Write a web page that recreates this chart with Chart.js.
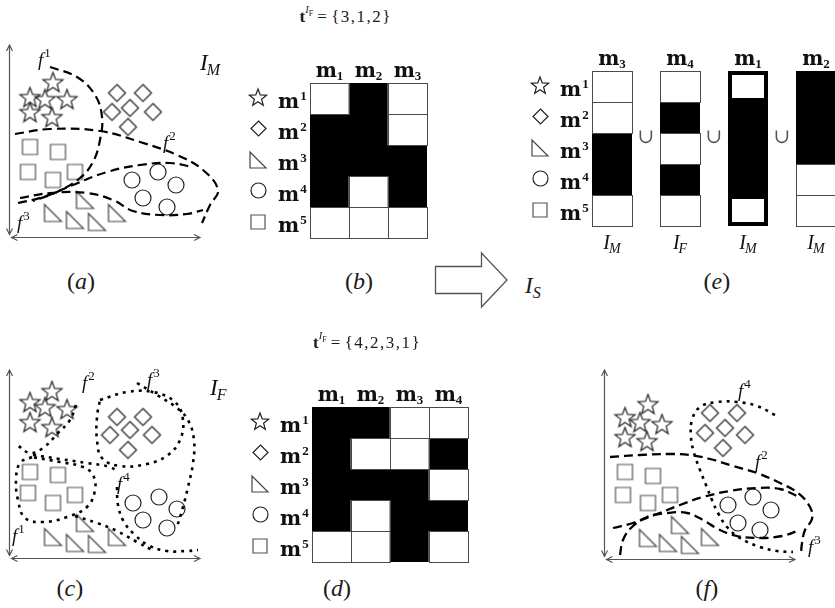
<!DOCTYPE html>
<html>
<head>
<meta charset="utf-8">
<title>Feature partitions and membership matrices</title>
<script src="https://cdn.jsdelivr.net/npm/chart.js@4.4.1/dist/chart.umd.min.js"></script>
<style>
  html, body { margin: 0; padding: 0; background: #fff; }
  body { position: relative; width: 835px; height: 608px; overflow: hidden; }
  canvas.panel { position: absolute; }
  .tx { position: absolute; font-family: "Liberation Serif", "DejaVu Serif", serif; line-height: 1; white-space: nowrap; color: #1a1a1a; }
  .up { font-size: 62%; position: relative; top: -0.8em; }
  .dn { font-size: 70%; position: relative; top: 0.3em; }
  .dn2 { font-size: 75%; position: relative; top: 0.35em; }
  .set { letter-spacing: 1.5px; }
</style>
</head>
<body>
<svg class="tx" style="left:430px;top:248px" width="82" height="64" viewBox="430 248 82 64">
  <polygon points="435.5,266.5 481.5,266.5 481.5,253 507,280 481.5,307 481.5,293.5 435.5,293.5"
           fill="none" stroke="#555" stroke-width="1.3" stroke-linejoin="miter"/>
</svg>
<script>
// ---------- samples in each feature-space view (offsets from the axis origin, y up) ----------
const starsA     = [[44,154],[21,139],[36,137],[58,137],[21,124],[43,119]];
const diamondsA  = [[108,144],[134,144],[103,125],[121,129],[144,125],[119,110]];
const trianglesA = [[44,24],[66,17],[88,15],[76,37],[108,24]];
const circlesA   = [[123,57],[149,65],[167,52],[134,39],[158,30]];
const squaresA   = [[21,90],[49,85],[19,65],[44,57],[66,65]];

const starsC     = [[43,166],[21,155],[36,150],[58,148],[21,135],[43,130]];
const diamondsC  = [[108,141],[134,141],[101,123],[121,128],[143,123],[119,108]];
const trianglesC = [[44,21],[66,15],[88,14],[76,35],[108,21]];
const circlesC   = [[124,55],[150,61],[168,49],[134,38],[158,30]];
const squaresC   = [[21,86],[49,83],[19,65],[44,55],[66,63]];

const starsF     = [[44,154],[21,141],[36,136],[58,134],[21,121],[43,117]];
const diamondsF  = [[106,146],[133,146],[101,126],[121,131],[141,124],[119,111]];
const trianglesF = [[44,21],[64,16],[86,14],[76,34],[106,22]];
const circlesF   = [[124,54],[149,62],[167,49],[134,36],[156,29]];
const squaresF   = [[21,87],[49,83],[19,64],[44,56],[66,64]];

// ---------- partition boundaries ----------
const f1A        = [[41,170],[68,160],[86,142],[93,120],[91,97],[84,75],[71,59],[48,45],[24,36]];
const f2A        = [[6,103],[41,108],[91,106],[131,95],[168,82],[194,67],[209,47],[201,32],[193,14]];
const f3A_top    = [[9,34],[34,40],[64,52],[98,65],[131,72],[161,74],[184,70]];
const f3A_bottom = [[11,39],[41,44],[78,44],[104,37],[124,26],[151,22],[178,23],[194,27]];

const f1C        = [[23,101],[11,95],[7,78],[9,58],[16,40],[34,36],[58,41],[78,51],[86,68],[84,83],[74,91],[51,96],[23,101]];
const f2C        = [[67,153],[61,138],[49,125],[34,110],[21,105],[8,113]];
const f2C_edge   = [[24,103],[51,99],[78,95],[101,91],[109,86]];
const f3C        = [[91,158],[118,166],[144,166],[166,156],[174,138],[171,118],[159,103],[138,94],[111,92],[93,100],[88,118],[88,141],[91,158]];
const f3C_outer  = [[128,175],[148,163],[168,150],[179,138],[185,118],[184,95],[179,71],[174,51],[168,31]];
const f4C        = [[108,71],[109,53],[115,36],[126,23],[139,13],[158,7],[178,7],[189,8]];
const f4C_edge   = [[66,42],[88,35],[108,27],[128,16],[143,8]];

const f2F        = [[6,102],[36,104],[66,105],[86,104],[106,100],[129,93],[153,86],[176,76],[194,66],[206,52],[208,40],[201,29],[198,16],[197,6]];
const f3F_top    = [[9,31],[29,36],[53,45],[76,54],[99,62],[126,68],[153,71],[176,70],[193,63]];
const f3F_bottom = [[16,4],[19,19],[28,32],[43,42],[63,46],[83,46],[99,39],[114,30],[133,23],[156,21],[178,23],[193,28],[199,32]];
const f4F        = [[171,144],[153,153],[133,157],[113,157],[96,152],[88,139],[87,122],[90,106],[96,89],[102,74],[108,59],[114,46],[123,32],[136,21],[156,12],[173,8],[189,7]];

// ---------- membership matrices (rows: classes, columns: partition cells) ----------
const rowLabels  = ['m1','m2','m3','m4','m5'];
const rowShapes  = ['star','diamond','triangle','circle','square'];
const colLabelsM = ['m1','m2','m3'];
const matrixM    = [[0,1,0],[1,1,0],[1,1,1],[1,0,1],[0,0,0]];
const colLabelsF = ['m1','m2','m3','m4'];
const matrixF    = [[1,1,0,0],[1,0,0,1],[1,1,1,0],[1,0,1,1],[0,0,1,0]];
const tOrderM    = [3,1,2];
const tOrderF    = [4,2,3,1];

// ---------- selected cells combined into the union ----------
const unionCols    = ['m3','m4','m1','m2'];
const unionSources = ['I_M','I_F','I_M','I_M'];
const unionFramed  = 'm1';

// ---------- drawing helpers ----------
const SHAPE_INK = { star: '#222', diamond: '#222', triangle: '#444', circle: '#222', square: '#555' };
function shapeImage(kind, s) {
  const n = Math.ceil(s) + 4;
  const c = document.createElement('canvas');
  c.width = n; c.height = n;
  const g = c.getContext('2d');
  g.strokeStyle = SHAPE_INK[kind]; g.lineWidth = 1.2; g.lineJoin = 'miter';
  const m = n / 2, h = s / 2;
  g.beginPath();
  if (kind === 'star') {
    for (let i = 0; i < 10; i++) {
      const ang = -Math.PI / 2 + i * Math.PI / 5, rr = i % 2 ? h * 0.42 : h;
      g.lineTo(m + rr * Math.cos(ang), m + rr * Math.sin(ang));
    }
    g.closePath();
  } else if (kind === 'diamond') {
    g.moveTo(m, m - h); g.lineTo(m + h, m); g.lineTo(m, m + h); g.lineTo(m - h, m); g.closePath();
  } else if (kind === 'circle') {
    g.arc(m, m, h, 0, Math.PI * 2);
  } else if (kind === 'square') {
    g.rect(m - h, m - h, s, s);
  } else if (kind === 'triangle') {
    g.moveTo(m - h, m - h); g.lineTo(m - h, m + h); g.lineTo(m + h, m + h); g.closePath();
  }
  g.stroke();
  return c;
}
const MARKS = { star: shapeImage('star', 21), diamond: shapeImage('diamond', 17), triangle: shapeImage('triangle', 17), circle: shapeImage('circle', 16), square: shapeImage('square', 15) };
const ICONS = { star: shapeImage('star', 18), diamond: shapeImage('diamond', 15), triangle: shapeImage('triangle', 16), circle: shapeImage('circle', 15), square: shapeImage('square', 14) };

const SERIF = '"Liberation Serif", "DejaVu Serif", serif';
const BOLD_M = '"DejaVu Serif", serif';
const COL_STYLE = { base: 'bold 20px ' + BOLD_M, script: 'bold 13px ' + SERIF, shift: 3, gap: 0 };
const ROW_STYLE = { base: 'bold 20px ' + BOLD_M, script: 'bold 13px ' + SERIF, shift: -8, gap: 1 };
const F_STYLE   = { base: 'italic 19px ' + SERIF, script: '13px ' + SERIF, shift: -9, gap: 1 };
const I_STYLE   = { base: 'italic 23px ' + SERIF, script: 'italic 16px ' + SERIF, shift: 5, gap: -1 };
const IB_STYLE  = { base: 'italic 20px ' + SERIF, script: 'italic 14px ' + SERIF, shift: 4, gap: -1 };

// label 'm1' -> m with script 1; 'I_M' -> I with script M
function drawScripted(ctx, label, x, y, st, align) {
  let base, script;
  if (label.includes('_')) [base, script] = label.split('_');
  else { base = label[0]; script = label.slice(1); }
  ctx.font = st.base; const wb = ctx.measureText(base).width;
  ctx.font = st.script; const ws = script ? ctx.measureText(script).width : 0;
  const x0 = align === 'center' ? x - (wb + st.gap + ws) / 2 : x;
  ctx.textAlign = 'left'; ctx.textBaseline = 'alphabetic'; ctx.fillStyle = '#111';
  ctx.font = st.base; ctx.fillText(base, x0, y);
  if (script) { ctx.font = st.script; ctx.fillText(script, x0 + wb + st.gap, y + st.shift); }
}

function arrowHead(ctx, x, y, dx, dy) {
  const len = 6, w = 3;
  ctx.beginPath();
  ctx.moveTo(x - dx * len - dy * w, y - dy * len + dx * w);
  ctx.lineTo(x, y);
  ctx.lineTo(x - dx * len + dy * w, y - dy * len - dx * w);
  ctx.stroke();
}

// axes with double arrows, plus the boundary and view names
const panelDecor = {
  id: 'panelDecor',
  beforeDatasetsDraw(chart) {
    const { ctx, chartArea: a } = chart;
    ctx.save();
    ctx.strokeStyle = '#555'; ctx.lineWidth = 1.2;
    const L = Math.round(a.left) + 0.5, B = Math.round(a.bottom) + 0.5;
    ctx.beginPath();
    ctx.moveTo(L, B - 3); ctx.lineTo(L, a.top);
    ctx.moveTo(L + 2, B); ctx.lineTo(a.right, B);
    ctx.stroke();
    arrowHead(ctx, L, a.top, 0, -1);
    arrowHead(ctx, L, B - 3, 0, 1);
    arrowHead(ctx, L + 2, B, -1, 0);
    arrowHead(ctx, a.right, B, 1, 0);
    ctx.restore();
  },
  afterDatasetsDraw(chart, _args, opts) {
    const { ctx } = chart, xs = chart.scales.x, ys = chart.scales.y;
    ctx.save();
    (opts.labels || []).forEach(l => {
      drawScripted(ctx, l.text, xs.getPixelForValue(l.at[0]), ys.getPixelForValue(l.at[1]), l.text[0] === 'I' ? I_STYLE : F_STYLE, 'left');
    });
    ctx.restore();
  }
};

// outlines of empty cells, frame of the chosen column, row/column names, union signs
const matrixDecor = {
  id: 'matrixDecor',
  afterDatasetsDraw(chart, _args, o) {
    const { ctx } = chart, xs = chart.scales.x, ys = chart.scales.y, area = chart.chartArea;
    ctx.save();
    ctx.strokeStyle = '#4a4a4a'; ctx.lineWidth = 1;
    const e = v => Math.round(v) + 0.5;
    chart.data.datasets.forEach((ds, r) => {
      chart.getDatasetMeta(r).data.forEach((bar, c) => {
        if (ds.cells[c] || o.framed === c) return;
        const p = bar.getProps(['x', 'y', 'base', 'width'], true);
        const l = e(p.x - p.width / 2), rr = e(p.x + p.width / 2);
        const t = e(Math.min(p.y, p.base)), b = e(Math.max(p.y, p.base));
        ctx.strokeRect(l, t, rr - l, b - t);
      });
    });
    if (o.framed >= 0) {
      const bar = chart.getDatasetMeta(0).data[o.framed];
      const l = Math.round(bar.x - bar.width / 2), r = Math.round(bar.x + bar.width / 2);
      const t = Math.round(area.top), b = Math.round(area.bottom);
      ctx.strokeStyle = '#000'; ctx.lineWidth = 4;
      ctx.strokeRect(l + 2, t + 2, r - l - 4, b - t - 4);
    }
    const first = chart.getDatasetMeta(0).data[0];
    const colLeft = first.x - first.width / 2;
    chart.data.labels.forEach((lab, c) => {
      drawScripted(ctx, lab, xs.getPixelForValue(c), area.top - 6, COL_STYLE, 'center');
    });
    rowLabels.forEach((lab, r) => {
      const yc = ys.getPixelForValue(r + 0.5);
      const img = ICONS[rowShapes[r]];
      ctx.drawImage(img, Math.round(colLeft - 52 - img.width / 2), Math.round(yc - 1 - img.height / 2));
      drawScripted(ctx, lab, colLeft - 32, yc + 9, ROW_STYLE, 'left');
    });
    if (o.sources) {
      o.sources.forEach((s, c) => drawScripted(ctx, s, xs.getPixelForValue(c), area.bottom + 23, IB_STYLE, 'center'));
    }
    if (o.unions) {
      ctx.font = '20px "DejaVu Serif", serif';
      ctx.fillStyle = '#555'; ctx.textAlign = 'center'; ctx.textBaseline = 'middle';
      for (let c = 0; c < chart.data.labels.length - 1; c++) {
        ctx.fillText('\u222A', (xs.getPixelForValue(c) + xs.getPixelForValue(c + 1)) / 2, ys.getPixelForValue(2.15));
      }
    }
    ctx.restore();
  }
};

function makeCanvas([x, y, w, h]) {
  const c = document.createElement('canvas');
  c.className = 'panel';
  c.width = w; c.height = h;
  c.style.left = x + 'px'; c.style.top = y + 'px';
  c.style.width = w + 'px'; c.style.height = h + 'px';
  document.body.appendChild(c);
  return c;
}
function paddingFor([x, y, w, h], a) {
  return { left: a.l - x, top: a.t - y, right: x + w - a.r, bottom: y + h - a.b };
}
const pts = arr => arr.map(([x, y]) => ({ x, y }));

function scatterPanel(box, axes, samples, curves, labels) {
  const datasets = [];
  curves.forEach(cv => datasets.push({
    data: pts(cv.points), showLine: true, borderColor: '#000', borderWidth: cv.width,
    borderDash: cv.dash, borderCapStyle: 'butt', tension: 0.4, pointRadius: 0, fill: false, clip: false
  }));
  Object.entries(samples).forEach(([kind, arr]) => datasets.push({
    data: pts(arr), pointStyle: MARKS[kind], pointRadius: 8, showLine: false, clip: false
  }));
  new Chart(makeCanvas(box), {
    type: 'scatter',
    data: { datasets },
    options: {
      responsive: false, animation: false, devicePixelRatio: 1, events: [],
      layout: { padding: paddingFor(box, axes) },
      scales: {
        x: { type: 'linear', display: false, min: 0, max: axes.r - axes.l },
        y: { type: 'linear', display: false, min: 0, max: axes.b - axes.t }
      },
      plugins: { legend: { display: false }, tooltip: { enabled: false }, panelDecor: { labels } }
    },
    plugins: [panelDecor]
  });
}

function matrixPanel(box, area, columns, extra) {
  const datasets = rowLabels.map((lab, r) => ({
    label: lab,
    data: columns.map(() => 1),
    cells: columns.map(c => c.values[r]),
    backgroundColor: columns.map(c => c.values[r] ? '#000' : '#fff'),
    borderColor: '#000',
    borderWidth: columns.map(c => (c.framed && !c.values[r]) ? 4 : 0),
    borderSkipped: false,
    barPercentage: extra.barPct || 1,
    categoryPercentage: 1
  }));
  new Chart(makeCanvas(box), {
    type: 'bar',
    data: { labels: columns.map(c => c.label), datasets },
    options: {
      responsive: false, animation: false, devicePixelRatio: 1, events: [],
      layout: { padding: paddingFor(box, area) },
      scales: {
        x: { display: false, stacked: true },
        y: { display: false, stacked: true, min: 0, max: rowLabels.length, reverse: true }
      },
      plugins: {
        legend: { display: false }, tooltip: { enabled: false },
        matrixDecor: { framed: columns.findIndex(c => c.framed), sources: extra.sources, unions: extra.unions }
      }
    },
    plugins: [matrixDecor]
  });
}

const columnOf = (matrix, labels, name) => matrix.map(row => row[labels.indexOf(name)]);

// ---------- (a) partition I_M ----------
const LONG = [9, 5], DOTS = [3, 5];
scatterPanel([0, 30, 240, 225], { l: 9, t: 45, r: 200, b: 237 },
  { star: starsA, diamond: diamondsA, triangle: trianglesA, circle: circlesA, square: squaresA },
  [f1A, f2A, f3A_top, f3A_bottom].map(p => ({ points: p, dash: LONG, width: 2.2 })),
  [{ text: 'f1', at: [29, 171] }, { text: 'f2', at: [154, 88] }, { text: 'f3', at: [8, 8] }, { text: 'I_M', at: [191, 167] }]);

// ---------- (c) partition I_F ----------
scatterPanel([0, 355, 250, 215], { l: 9, t: 370, r: 200, b: 558 },
  { star: starsC, diamond: diamondsC, triangle: trianglesC, circle: circlesC, square: squaresC },
  [f1C, f2C, f2C_edge, f3C, f3C_outer, f4C, f4C_edge].map(p => ({ points: p, dash: DOTS, width: 2.6 })),
  [{ text: 'f1', at: [3, 16] }, { text: 'f2', at: [73, 169] }, { text: 'f3', at: [138, 172] }, { text: 'f4', at: [108, 68] }, { text: 'I_F', at: [201, 163] }]);

// ---------- (f) combined partition ----------
scatterPanel([590, 355, 245, 215], { l: 604, t: 370, r: 795, b: 559 },
  { star: starsF, diamond: diamondsF, triangle: trianglesF, circle: circlesF, square: squaresF },
  [{ points: f2F, dash: LONG, width: 2.3 }, { points: f3F_top, dash: LONG, width: 2.3 },
   { points: f3F_bottom, dash: LONG, width: 2.3 }, { points: f4F, dash: DOTS, width: 2.6 }],
  [{ text: 'f4', at: [134, 162] }, { text: 'f2', at: [151, 91] }, { text: 'f3', at: [204, 6] }]);

// ---------- (b) and (d) matrices (whole-pixel cells: 39 x 31) ----------
matrixPanel([240, 45, 200, 200], { l: 310, t: 83, r: 427, b: 238 },
  colLabelsM.map(name => ({ label: name, values: columnOf(matrixM, colLabelsM, name) })), {});
matrixPanel([240, 375, 240, 195], { l: 312, t: 407, r: 468, b: 562 },
  colLabelsF.map(name => ({ label: name, values: columnOf(matrixF, colLabelsF, name) })), {});

// ---------- (e) union of selected columns ----------
matrixPanel([520, 40, 340, 220], { l: 578, t: 71, r: 850, b: 226 },
  unionCols.map((name, i) => ({
    label: name,
    values: unionSources[i] === 'I_F' ? columnOf(matrixF, colLabelsF, name) : columnOf(matrixM, colLabelsM, name),
    framed: name === unionFramed
  })),
  { barPct: 40 / 68, sources: unionSources, unions: true });

// ---------- page text ----------
function place(html, x, baseline, size, align) {
  const d = document.createElement('div');
  d.className = 'tx';
  d.style.fontSize = size + 'px';
  d.innerHTML = html;
  document.body.appendChild(d);
  const w = d.offsetWidth;
  d.style.left = (align === 'left' ? x : x - w / 2) + 'px';
  d.style.top = (baseline - 0.8375 * size) + 'px';
}
const tLabel = order => '<b>t</b><span class="up"><i>I</i><span class="dn2">F</span></span> = <span class="set">{' + order.join(',') + '}</span>';
place(tLabel(tOrderM), 346, 22, 17);
place(tLabel(tOrderF), 367, 348, 17);
[['a', 81, 289], ['b', 359, 289], ['e', 717, 289], ['c', 70, 596], ['d', 337, 596], ['f', 707, 596]]
  .forEach(([t, x, y]) => place('(<i>' + t + '</i>)', x, y, 24));
place('<i>I</i><span class="dn"><i>S</i></span>', 525, 293, 23, 'left');
</script>
</body>
</html>
